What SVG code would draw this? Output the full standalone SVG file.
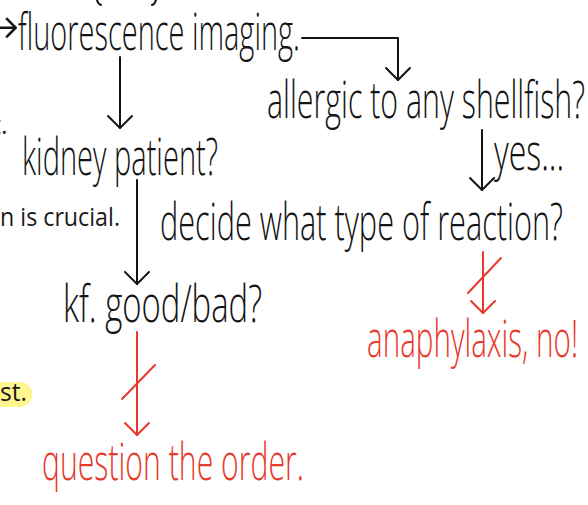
<svg xmlns="http://www.w3.org/2000/svg" width="588" height="505" viewBox="0 0 588 505">
<style>
.hw{font-family:"Open Sans","DejaVu Sans",sans-serif;font-weight:300;font-size:52px;fill:#141414}
.red{fill:#e8392b}
.typed{font-family:"Open Sans","Liberation Sans",sans-serif;font-size:25px;fill:#1a1a1a}
.ln{fill:none;stroke:#141414;stroke-width:2;stroke-linecap:round;stroke-linejoin:round}
.lr{fill:none;stroke:#e8392b;stroke-width:2;stroke-linecap:round;stroke-linejoin:round}
</style>
<defs>
<marker id="ak" markerUnits="userSpaceOnUse" markerWidth="30" markerHeight="30" refX="15" refY="15" orient="auto" viewBox="0 0 30 30">
<path d="M3,3 L15,15 L3,27" fill="none" stroke="#141414" stroke-width="2" stroke-linecap="round" stroke-linejoin="round"/>
</marker>
<marker id="ar" markerUnits="userSpaceOnUse" markerWidth="30" markerHeight="30" refX="15" refY="15" orient="auto" viewBox="0 0 30 30">
<path d="M3,3 L15,15 L3,27" fill="none" stroke="#e8392b" stroke-width="2" stroke-linecap="round" stroke-linejoin="round"/>
</marker>
</defs>
<rect width="588" height="505" fill="#ffffff"/>

<g id="fragments">
<path class="ln" d="M97,0 Q98,4 101,5"/>
<path class="ln" d="M156,0 Q155,4 152,5"/>
<text class="typed" x="-8" y="134">t.</text>
<text class="typed" x="0" y="226" textLength="120" lengthAdjust="spacingAndGlyphs">n is crucial.</text>
<path d="M0,382 L20,382 A12.5,12.5 0 0 1 20,407 L0,407 Z" fill="#fff68f"/>
<text class="typed" x="0" y="401" textLength="27" lengthAdjust="spacingAndGlyphs">st.</text>
</g>

<g id="connectors">
<path class="ln" d="M302,38 L398,38 L398,80" marker-end="url(#ak)"/>
<path class="ln" d="M120,57 L120,128" marker-end="url(#ak)"/>
<path class="ln" d="M482,130 L482,190" marker-end="url(#ak)"/>
<path class="ln" d="M137,180 L137,284" marker-end="url(#ak)"/>
<path class="lr" d="M137,332 L137,435" marker-end="url(#ar)"/>
<path class="lr" d="M122,399 L155,365"/>
<path class="lr" d="M483,252 L483,313" marker-end="url(#ar)"/>
<path class="lr" d="M468,293 L501,258"/>
</g>

<g id="node-fluorescence">
<text class="hw" x="-24" y="44" font-size="30">→</text>
<text class="hw" x="18" y="50" textLength="282" lengthAdjust="spacingAndGlyphs">fluorescence imaging.</text>
</g>
<g id="node-allergic">
<text class="hw" x="267" y="118" textLength="318" lengthAdjust="spacingAndGlyphs">allergic to any shellfish?</text>
</g>
<g id="label-yes">
<text class="hw" x="494" y="170" font-size="34" textLength="70" lengthAdjust="spacingAndGlyphs">yes...</text>
</g>
<g id="node-kidney">
<text class="hw" x="22" y="175" textLength="196" lengthAdjust="spacingAndGlyphs">kidney patient?</text>
</g>
<g id="node-decide">
<text class="hw" x="160" y="240" textLength="403" lengthAdjust="spacingAndGlyphs">decide what type of reaction?</text>
</g>
<g id="node-kf">
<text class="hw" x="63" y="322" textLength="199" lengthAdjust="spacingAndGlyphs">kf. good/bad?</text>
</g>
<g id="node-question">
<text class="hw red" x="42" y="480" textLength="262" lengthAdjust="spacingAndGlyphs">question the order.</text>
</g>
<g id="node-anaphylaxis">
<text class="hw red" x="367" y="357" font-size="50" textLength="211" lengthAdjust="spacingAndGlyphs">anaphylaxis, no!</text>
</g>
</svg>
